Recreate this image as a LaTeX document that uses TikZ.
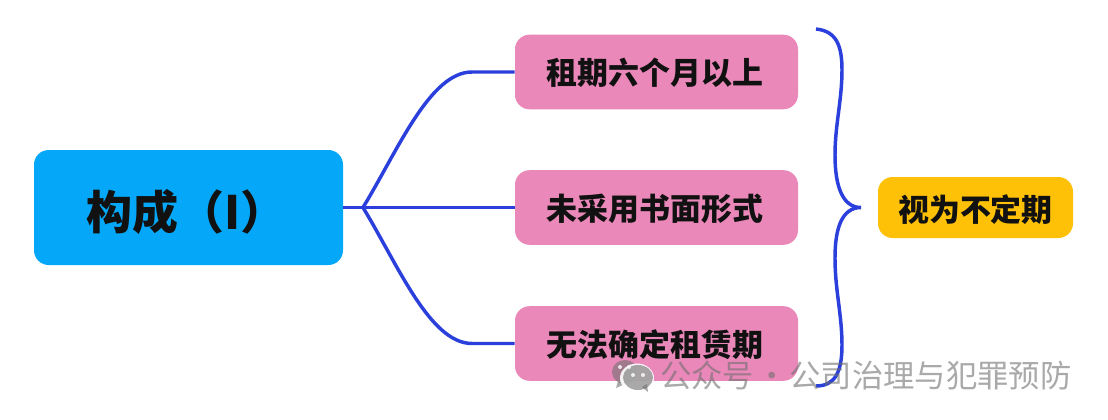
\documentclass[tikz,border=0pt]{standalone}
\usepackage{fontspec}
\newfontfamily\cjk{Noto Sans CJK SC}
\definecolor{rootblue}{HTML}{05A8F8}
\definecolor{itempink}{HTML}{EA88B9}
\definecolor{resultyellow}{HTML}{FFC107}
\definecolor{linkblue}{HTML}{2A3FDB}
\definecolor{inkblack}{HTML}{111111}
\definecolor{markgray}{HTML}{6F6F6F}
\tikzset{
    box/.style={rounded corners=11pt, text=inkblack, inner sep=0pt, align=center, font=\cjk\bfseries\fontsize{23.2pt}{28pt}\selectfont},
    item/.style={box, fill=itempink, minimum width=212.25pt, minimum height=56pt},
    link/.style={draw=linkblue, line width=2.6pt}
}
\begin{document}
\begin{tikzpicture}[x=.75pt, y=-.75pt]
\useasboundingbox (0,0) rectangle (1108,419);
\node[box, fill=rootblue, minimum width=231.75pt, minimum height=86.25pt, font=\cjk\bfseries\fontsize{34.5pt}{40pt}\selectfont] (root) at (188.5,207.5) {\hspace*{-3pt}\raisebox{-3.5pt}[\height][\depth]{构成（I）}};
\foreach \name/\y/\txt in {lease/72/租期六个月以上,form/207.5/未采用书面形式,term/343.5/无法确定租赁期}
{
    \node[item] (\name) at (656.5,\y) {\hspace*{-2.2pt}\raisebox{-.75pt}[\height][\depth]{\txt}};
}
\node[box, fill=resultyellow, minimum width=146.25pt, minimum height=45.75pt] (result) at (975.5,207.5) {\raisebox{-1.5pt}[\height][\depth]{视为不定期}};
\coordinate (hub) at (363,207.5);
\coordinate (bracetop) at (816,29);
\coordinate (bracetip) at (861,207.5);
\coordinate (bracebot) at (816,386);

\draw[link] (root.east)--(form.west);
\draw[link] (hub) .. controls (398,150) and (430,72) .. (472,72)--(lease.west);
\draw[link] (hub) .. controls (398,265) and (430,343.5) .. (472,343.5)--(term.west);
\draw[link] (bracetop) .. controls (836,31) and (842,45) .. (842,70)
    .. controls (842,100) and (835,125) .. (835,155)
    .. controls (835,185) and (842,207.5) .. (bracetip)
    .. controls (842,207.5) and (835,228) .. (835,258)
    .. controls (835,290) and (842,315) .. (842,345)
    .. controls (842,372) and (835,386) .. (bracebot);

\fill[markgray, opacity=.6] (625,372) ellipse (13 and 12);
\fill[markgray, opacity=.6] (618,381)--(616,388)--(625,384)--cycle;
\fill[white, opacity=.9] (637,378) ellipse (17 and 14.5);
\fill[markgray, opacity=.6] (638,377.5) ellipse (15 and 12.5);
\fill[markgray, opacity=.6] (642,387)--(648,392)--(647,384)--cycle;
\foreach \x/\y in {620/367,629/367,633/375,643/375}
{
    \fill[white, opacity=.8] (\x,\y) circle (2);
}
\node[text=markgray, opacity=.6, inner sep=0pt, anchor=west, font=\cjk\fontsize{23.5pt}{26pt}\selectfont] (mark) at (660,376) {公众号\hspace{1.5pt}·\hspace{1.5pt}公司治理与犯罪预防};
\end{tikzpicture}
\end{document}
